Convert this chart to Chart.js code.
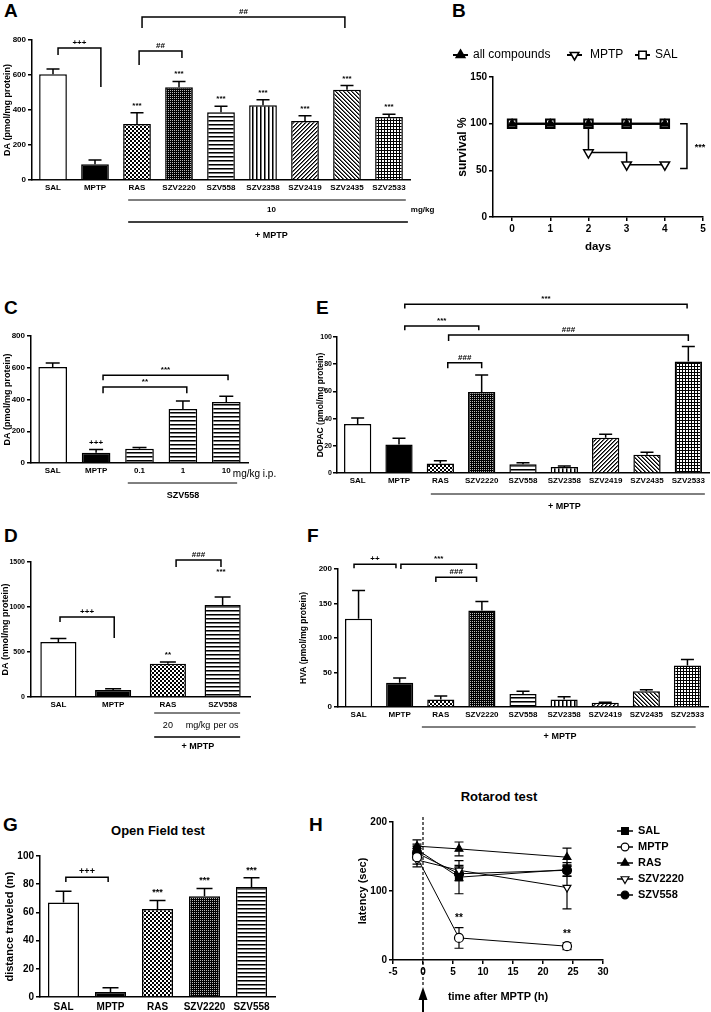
<!DOCTYPE html>
<html>
<head>
<meta charset="utf-8">
<title>MPTP figure</title>
<script src="https://cdn.jsdelivr.net/npm/chart.js@4.4.1/dist/chart.umd.min.js"></script>
<style>
  body { margin: 0; background: #fff; }
  #fig { position: relative; width: 711px; height: 1012px; overflow: hidden; font-family: "Liberation Sans", Arial, sans-serif; color: #000; }
  #fig canvas { position: absolute; }
  .letter { position: absolute; font-weight: bold; font-size: 19px; line-height: 19px; }
  .title { position: absolute; font-weight: bold; font-size: 13px; line-height: 13px; white-space: nowrap; transform: translate(-50%, -50%); }
</style>
</head>
<body>
<div id="fig">
  <div class="letter" style="left:4px;top:1px">A</div>
  <div class="letter" style="left:452px;top:1px">B</div>
  <div class="letter" style="left:4px;top:298px">C</div>
  <div class="letter" style="left:316px;top:298px">E</div>
  <div class="letter" style="left:4px;top:526px">D</div>
  <div class="letter" style="left:307px;top:526px">F</div>
  <div class="letter" style="left:3px;top:815px">G</div>
  <div class="letter" style="left:309px;top:815px">H</div>
  <div class="title" style="left:158px;top:830px">Open Field test</div>
  <div class="title" style="left:499px;top:796px">Rotarod test</div>
</div>
<script>
const FONT = '"Liberation Sans", Arial, sans-serif';
Chart.defaults.font.family = FONT;
Chart.defaults.color = '#000';

// ---- data ----
const drugLabels = ['SAL', 'MPTP', 'RAS', 'SZV2220', 'SZV558', 'SZV2358', 'SZV2419', 'SZV2435', 'SZV2533'];

// A: striatal DA, 10 mg/kg
const daMeans = [605, 90, 320, 530, 387, 427, 337, 516, 360];
const daSem = [30, 25, 65, 33, 35, 31, 30, 24, 16];
const daStars = ['', '', '***', '***', '***', '***', '***', '***', '***'];

// B: survival
const survivalDays = [0, 1, 2, 3, 4];
const survivalAll = [100, 100, 100, 100, 100];
const survivalMptp = [100, 100, 69, 56, 56];
const survivalSal = [100, 100, 100, 100, 100];

// C: SZV558 dose response
const doseLabels = ['SAL', 'MPTP', '0.1', '1', '10'];
const doseMeans = [605, 65, 90, 340, 385];
const doseSem = [25, 20, 7, 50, 35];
const doseStars = ['', '+++', '', '', ''];

// D: oral dosing
const oralLabels = ['SAL', 'MPTP', 'RAS', 'SZV558'];
const oralMeans = [611, 78, 370, 1022];
const oralSem = [40, 15, 20, 90];
const oralStars = ['', '', '**', ''];

// E: DOPAC
const dopacMeans = [36, 21, 7, 59.5, 6.5, 4.5, 26, 13.5, 82];
const dopacSem = [4.5, 4.5, 2, 12.5, 1, 0.7, 2.5, 1.8, 11];

// F: HVA
const hvaMeans = [128, 35, 11, 140, 19, 11, 6, 23, 60];
const hvaSem = [41, 7, 5, 13, 4, 4, 1, 2, 9];

// G: open field
const fieldLabels = ['SAL', 'MPTP', 'RAS', 'SZV2220', 'SZV558'];
const fieldMeans = [67, 3.5, 62.5, 71.5, 78];
const fieldSem = [8, 3, 6, 5.5, 6.5];
const fieldStars = ['', '', '***', '***', '***'];

// H: rotarod
const rotaHours = [-1, 6, 24];
const rotaSal = [160, 120, 131];
const rotaSalSem = [8, 24, 10];
const rotaMptp = [149, 32, 20];
const rotaMptpSem = [10, 15, 5];
const rotaRas = [165, 161, 149];
const rotaRasSem = [9, 10, 13];
const rota2220 = [145, 130, 105];
const rota2220Sem = [10, 7, 31];
const rota558 = [155, 125, 130];
const rota558Sem = [10, 10, 8];

// ---- fills ----
const W = '#fff', K = '#000';

function pattern(kind) {
  const n = kind === 'grid' ? 3 : (kind === 'dense' ? 2 : 4);
  const c = document.createElement('canvas');
  c.width = n; c.height = n;
  const g = c.getContext('2d');
  const px = (x, y, col) => { g.fillStyle = col; g.fillRect(x, y, 1, 1); };
  g.fillStyle = W; g.fillRect(0, 0, n, n);
  if (kind === 'dots') {
    g.fillStyle = K; g.fillRect(0, 0, n, n);
    g.fillStyle = W; g.fillRect(0, 0, 2, 2); g.fillRect(2, 2, 2, 2);
  } else if (kind === 'dense') {
    g.fillStyle = K; g.fillRect(0, 0, n, n);
    px(0, 0, '#bbb');
  } else if (kind === 'hlines') {
    g.fillStyle = K; g.fillRect(0, 0, n, 1);
    g.fillStyle = '#777'; g.fillRect(0, 1, n, 1);
  } else if (kind === 'vlines') {
    g.fillStyle = K; g.fillRect(0, 0, 1, n);
    g.fillStyle = '#777'; g.fillRect(1, 0, 1, n);
  } else if (kind === 'up') {
    for (let i = 0; i < 4; i++) { px(3 - i, i, K); px((4 - i) % 4, i, '#666'); }
  } else if (kind === 'down') {
    for (let i = 0; i < 4; i++) { px(i, i, K); px((i + 1) % 4, i, '#666'); }
  } else if (kind === 'grid') {
    g.fillStyle = K; g.fillRect(0, 0, n, 1); g.fillRect(0, 0, 1, n);
  }
  return g.createPattern(c, 'repeat');
}

const dots = pattern('dots'), dense = pattern('dense'), hl = pattern('hlines');
const drugFills = [W, K, dots, dense, hl, pattern('vlines'), pattern('up'), pattern('down'), pattern('grid')];

// ---- helpers ----
function place(box) {
  const c = document.createElement('canvas');
  c.width = box[2]; c.height = box[3];
  c.style.left = box[0] + 'px'; c.style.top = box[1] + 'px';
  document.getElementById('fig').appendChild(c);
  return c;
}

function padFor(L) {
  return {
    left: L.area[0] - L.box[0] - L.yW,
    top: L.area[1] - L.box[1],
    right: L.box[0] + L.box[2] - L.area[2],
    bottom: L.box[1] + L.box[3] - L.area[3] - L.xH
  };
}

function bold(size) { return { family: FONT, size: size, weight: 'bold' }; }
const plain = v => String(v);
const axisLine = { display: true, color: K, width: 1.5 };
const tickMarks = { display: true, drawOnChartArea: false, drawTicks: true, tickLength: 4, color: K, lineWidth: 1.5 };

function pts(xs, ys) { return xs.map((x, i) => ({ x: x, y: ys[i] })); }

function marker(ctx, style, x, y, r, fill, flip) {
  ctx.beginPath();
  if (style === 'rect') ctx.rect(x - r * 0.75, y - r * 0.75, r * 1.5, r * 1.5);
  else if (style === 'circle') ctx.arc(x, y, r * 0.85, 0, Math.PI * 2);
  else {
    const s = flip ? -1 : 1;
    ctx.moveTo(x, y - s * r);
    ctx.lineTo(x + r * 0.87, y + s * r * 0.5);
    ctx.lineTo(x - r * 0.87, y + s * r * 0.5);
    ctx.closePath();
  }
  ctx.fillStyle = fill; ctx.fill(); ctx.stroke();
}

// error bars, stars, brackets and group lines for the bar panels
function barMarks(means, m) {
  return {
    id: 'barMarks',
    afterDatasetsDraw(chart) {
      const ctx = chart.ctx, xs = chart.scales.x, ys = chart.scales.y;
      const bottom = chart.chartArea.bottom;
      ctx.save();
      ctx.strokeStyle = K; ctx.fillStyle = K; ctx.lineWidth = 1.5;
      ctx.textAlign = 'center'; ctx.textBaseline = 'alphabetic';
      ctx.font = 'bold ' + m.star + 'px ' + FONT;
      means.forEach((v, i) => {
        const x = xs.getPixelForValue(i);
        const y0 = ys.getPixelForValue(v), y1 = ys.getPixelForValue(v + m.sem[i]);
        ctx.beginPath();
        ctx.moveTo(x, y0); ctx.lineTo(x, y1);
        ctx.moveTo(x - m.cap, y1); ctx.lineTo(x + m.cap, y1);
        ctx.stroke();
        if (m.stars && m.stars[i]) ctx.fillText(m.stars[i], x, y1 - 5);
      });
      (m.brackets || []).forEach(b => {
        const x1 = xs.getPixelForValue(b.from), x2 = xs.getPixelForValue(b.to);
        const y = ys.getPixelForValue(b.at);
        ctx.beginPath();
        ctx.moveTo(x1, ys.getPixelForValue(b.left));
        ctx.lineTo(x1, y); ctx.lineTo(x2, y);
        ctx.lineTo(x2, ys.getPixelForValue(b.right));
        ctx.stroke();
        ctx.fillText(b.text, (x1 + x2) / 2, y - 3);
      });
      (m.notes || []).forEach(n => ctx.fillText(n.text, xs.getPixelForValue(n.x), ys.getPixelForValue(n.y)));
      (m.rules || []).forEach(r => {
        ctx.lineWidth = r.w;
        ctx.beginPath();
        ctx.moveTo(xs.getPixelForValue(r.from), bottom + r.dy);
        ctx.lineTo(xs.getPixelForValue(r.to), bottom + r.dy);
        ctx.stroke();
      });
      ctx.textBaseline = 'middle';
      (m.texts || []).forEach(t => {
        ctx.font = (t.weight || 'bold') + ' ' + t.size + 'px ' + FONT;
        ctx.textAlign = t.align || 'center';
        ctx.fillText(t.text, xs.getPixelForValue(t.x), bottom + t.dy);
      });
      ctx.restore();
    }
  };
}

function barPanel(L, labels, means, fills, yMax, yStep, yTitle, marks) {
  return new Chart(place(L.box), {
    type: 'bar',
    data: {
      labels: labels,
      datasets: [{
        data: means,
        backgroundColor: fills,
        borderColor: K,
        borderWidth: 1.5,
        barPercentage: 0.66,
        categoryPercentage: 1
      }]
    },
    options: {
      responsive: false,
      animation: false,
      events: [],
      layout: { padding: padFor(L) },
      plugins: { legend: { display: false }, tooltip: { enabled: false } },
      scales: {
        x: {
          afterFit: s => { s.height = L.xH; },
          grid: { display: false, drawTicks: false },
          border: axisLine,
          ticks: { padding: L.xPad, font: bold(L.xTick), color: K, autoSkip: false, maxRotation: 0 }
        },
        y: {
          min: 0, max: yMax,
          afterFit: s => { s.width = L.yW; },
          grid: tickMarks,
          border: axisLine,
          ticks: { stepSize: yStep, padding: L.yPad, font: bold(L.yTick), color: K, callback: plain },
          title: { display: true, text: yTitle, font: bold(L.tSize), color: K, padding: { top: L.tPad, bottom: 0 } }
        }
      }
    },
    plugins: [barMarks(means, marks)]
  });
}

// ---- A ----
barPanel({ box: [0, 0, 440, 250], area: [32, 40, 410, 180], yW: 32, xH: 16, xPad: 3, xTick: 8, yPad: 2, yTick: 8, tSize: 9, tPad: 2 },
  drugLabels, daMeans, drugFills, 800, 200, 'DA (pmol/mg protein)', {
    sem: daSem, stars: daStars, star: 8, cap: 6.5,
    brackets: [
      { from: 0.12, to: 1.14, at: 754, left: 714, right: 531, text: '+++' },
      { from: 2.05, to: 3.07, at: 737, left: 657, right: 697, text: '##' },
      { from: 2.12, to: 6.95, at: 931, left: 869, right: 869, text: '##' }
    ],
    rules: [{ from: 1.79, to: 8.4, dy: 20, w: 1 }, { from: 1.79, to: 8.45, dy: 42, w: 1.5 }],
    texts: [
      { x: 5.2, dy: 30, text: '10', size: 8 },
      { x: 8.52, dy: 30, text: 'mg/kg', size: 8, align: 'left' },
      { x: 5.2, dy: 56, text: '+ MPTP', size: 9 }
    ]
  });

// ---- C ----
barPanel({ box: [0, 300, 330, 205], area: [31, 336, 248, 463], yW: 31, xH: 16, xPad: 3, xTick: 8, yPad: 2, yTick: 8, tSize: 9, tPad: 2 },
  doseLabels, doseMeans, [W, K, hl, hl, hl], 800, 200, 'DA (pmol/mg protein)', {
    sem: doseSem, stars: doseStars, star: 8, cap: 7,
    brackets: [
      { from: 1.16, to: 3.09, at: 478, left: 440, right: 440, text: '**' },
      { from: 1.16, to: 4.04, at: 553, left: 522, right: 522, text: '***' }
    ],
    rules: [{ from: 1.73, to: 4.25, dy: 20, w: 1 }],
    texts: [
      { x: 4.15, dy: 11, text: 'mg/kg i.p.', size: 10, weight: 'normal', align: 'left' },
      { x: 3.0, dy: 33, text: 'SZV558', size: 9 }
    ]
  });

// ---- D ----
barPanel({ box: [0, 530, 330, 230], area: [31, 562, 250, 697], yW: 31, xH: 16, xPad: 3, xTick: 8, yPad: 2, yTick: 7, tSize: 9, tPad: 0 },
  oralLabels, oralMeans, [W, K, dots, hl], 1500, 500, 'DA (nmol/mg protein)', {
    sem: oralSem, stars: oralStars, star: 8, cap: 8,
    brackets: [
      { from: 0.03, to: 1.02, at: 889, left: 833, right: 656, text: '+++' },
      { from: 2.15, to: 2.97, at: 1522, left: 1444, right: 1444, text: '###' }
    ],
    notes: [{ x: 2.97, y: 1362, text: '***' }],
    rules: [{ from: 1.75, to: 3.32, dy: 16, w: 1 }, { from: 1.75, to: 3.32, dy: 40, w: 1.5 }],
    texts: [
      { x: 2.0, dy: 29, text: '20', size: 9, weight: 'normal' },
      { x: 2.55, dy: 29, text: 'mg/kg', size: 9, weight: 'normal' },
      { x: 3.06, dy: 29, text: 'per os', size: 9, weight: 'normal' },
      { x: 2.55, dy: 50, text: '+ MPTP', size: 9 }
    ]
  });

// ---- E ----
barPanel({ box: [310, 285, 401, 230], area: [337, 337, 709, 473], yW: 22, xH: 16, xPad: 3, xTick: 8, yPad: 1, yTick: 7, tSize: 8.5, tPad: 1 },
  drugLabels, dopacMeans, drugFills, 100, 20, 'DOPAC (pmol/mg protein)', {
    sem: dopacSem, star: 8, cap: 6.5,
    brackets: [
      { from: 1.14, to: 7.97, at: 124, left: 121, right: 121, text: '***' },
      { from: 1.14, to: 2.93, at: 108, left: 105, right: 105, text: '***' },
      { from: 2.2, to: 8.0, at: 101.5, left: 97, right: 97, text: '###' },
      { from: 2.18, to: 3.0, at: 81, left: 77, right: 77, text: '###' }
    ],
    rules: [{ from: 1.77, to: 8.4, dy: 21, w: 1 }],
    texts: [{ x: 5.0, dy: 34, text: '+ MPTP', size: 9 }]
  });

// ---- F ----
barPanel({ box: [290, 545, 421, 215], area: [338, 569, 708, 707], yW: 41, xH: 16, xPad: 3, xTick: 8, yPad: 2, yTick: 8, tSize: 8.5, tPad: 2 },
  drugLabels, hvaMeans, drugFills, 200, 50, 'HVA (pmol/mg protein)', {
    sem: hvaSem, star: 8, cap: 6.5,
    brackets: [
      { from: -0.11, to: 0.91, at: 207, left: 201, right: 201, text: '++' },
      { from: 1.03, to: 2.87, at: 207, left: 200, right: 200, text: '***' },
      { from: 1.88, to: 2.87, at: 188, left: 181, right: 181, text: '###' }
    ],
    rules: [{ from: 1.54, to: 8.2, dy: 20, w: 1 }],
    texts: [{ x: 4.9, dy: 30, text: '+ MPTP', size: 9 }]
  });

// ---- G ----
barPanel({ box: [0, 840, 300, 172], area: [40, 856, 275, 997], yW: 40, xH: 15, xPad: 4, xTick: 10, yPad: 2, yTick: 10, tSize: 11, tPad: 3 },
  fieldLabels, fieldMeans, [W, K, dots, dense, hl], 100, 20, 'distance traveled (m)', {
    sem: fieldSem, stars: fieldStars, star: 9, cap: 8,
    brackets: [{ from: 0.05, to: 0.95, at: 85, left: 81.5, right: 81.5, text: '+++' }]
  });

// ---- B ----
const LB = { box: [440, 20, 271, 240], area: [493, 77, 703, 217], yW: 41, xH: 40 };
const survivalLegend = [
  { text: 'all compounds', style: 'triangle', fill: K, flip: false, x0: 13, tx: 33 },
  { text: 'MPTP', style: 'triangle', fill: W, flip: true, x0: 127, tx: 150 },
  { text: 'SAL', style: 'rect', fill: W, flip: false, x0: 195, tx: 215 }
];
const survivalMarks = {
  id: 'survivalMarks',
  afterDatasetsDraw(chart) {
    const ctx = chart.ctx, xs = chart.scales.x, ys = chart.scales.y;
    ctx.save();
    ctx.strokeStyle = K; ctx.fillStyle = K; ctx.lineWidth = 1.5;
    const xa = xs.getPixelForValue(4.4), xb = xs.getPixelForValue(4.58);
    const y1 = ys.getPixelForValue(100), y2 = ys.getPixelForValue(52);
    ctx.beginPath();
    ctx.moveTo(xa, y1); ctx.lineTo(xb, y1); ctx.lineTo(xb, y2); ctx.lineTo(xa, y2);
    ctx.stroke();
    ctx.font = 'bold 9px ' + FONT; ctx.textAlign = 'center'; ctx.textBaseline = 'middle';
    ctx.fillText('***', xs.getPixelForValue(4.92), ys.getPixelForValue(74));
    const ly = 35;
    survivalLegend.forEach(it => {
      ctx.lineWidth = 2;
      ctx.beginPath(); ctx.moveTo(it.x0, ly); ctx.lineTo(it.x0 + 15, ly); ctx.stroke();
      ctx.lineWidth = 1.5;
      marker(ctx, it.style, it.x0 + 7.5, ly, 5, it.fill, it.flip);
      ctx.fillStyle = K;
      ctx.font = '12px ' + FONT; ctx.textAlign = 'left';
      ctx.fillText(it.text, it.tx, ly);
    });
    ctx.restore();
  }
};
new Chart(place(LB.box), {
  type: 'line',
  data: {
    datasets: [
      { label: 'all compounds', data: pts(survivalDays, survivalAll), borderColor: K, backgroundColor: K, borderWidth: 2, pointStyle: 'triangle', pointRadius: 5, pointBorderWidth: 1 },
      { label: 'SAL', data: pts(survivalDays, survivalSal), borderColor: K, backgroundColor: W, borderWidth: 2, pointStyle: 'rect', pointRadius: 6, pointBorderWidth: 2 },
      { label: 'MPTP', data: pts(survivalDays, survivalMptp), stepped: true, borderColor: K, backgroundColor: W, borderWidth: 1.5, pointStyle: 'triangle', pointRotation: 180, pointRadius: [0, 0, 5.5, 5.5, 5.5], pointBorderWidth: 1.5 }
    ]
  },
  options: {
    responsive: false, animation: false, events: [],
    layout: { padding: padFor(LB) },
    plugins: { legend: { display: false }, tooltip: { enabled: false } },
    scales: {
      x: {
        type: 'linear', min: -0.5, max: 5,
        afterFit: s => { s.height = LB.xH; },
        grid: tickMarks, border: axisLine,
        ticks: { stepSize: 1, includeBounds: false, padding: 2, font: bold(10), color: K },
        title: { display: true, text: 'days', font: bold(11.5), color: K, padding: { top: 0, bottom: 3 } }
      },
      y: {
        min: 0, max: 150,
        afterFit: s => { s.width = LB.yW; },
        grid: tickMarks, border: axisLine,
        ticks: { stepSize: 50, padding: 2, font: bold(10), color: K },
        title: { display: true, text: 'survival %', font: bold(12), color: K, padding: { top: 3, bottom: 0 } }
      }
    }
  },
  plugins: [survivalMarks]
});

// ---- H ----
const LH = { box: [340, 790, 371, 222], area: [393, 822, 603, 960], yW: 39, xH: 45 };
const rotaSeries = [
  { label: 'MPTP', data: rotaMptp, sem: rotaMptpSem, style: 'circle', fill: W, flip: false },
  { label: 'SAL', data: rotaSal, sem: rotaSalSem, style: 'rect', fill: K, flip: false },
  { label: 'RAS', data: rotaRas, sem: rotaRasSem, style: 'triangle', fill: K, flip: false },
  { label: 'SZV2220', data: rota2220, sem: rota2220Sem, style: 'triangle', fill: W, flip: true },
  { label: 'SZV558', data: rota558, sem: rota558Sem, style: 'circle', fill: K, flip: false }
];
const legendOrder = ['SAL', 'MPTP', 'RAS', 'SZV2220', 'SZV558'];
const rotaMarks = {
  id: 'rotaMarks',
  beforeDatasetsDraw(chart) {
    const ctx = chart.ctx, xs = chart.scales.x, ys = chart.scales.y, area = chart.chartArea;
    ctx.save();
    ctx.strokeStyle = K; ctx.lineWidth = 1.2;
    // dashed line at MPTP injection
    const x0 = xs.getPixelForValue(0);
    ctx.setLineDash([3, 2]);
    ctx.beginPath(); ctx.moveTo(x0, area.top - 5); ctx.lineTo(x0, 195); ctx.stroke();
    ctx.setLineDash([]);
    // error bars
    rotaSeries.forEach(s => {
      s.data.forEach((v, i) => {
        const x = xs.getPixelForValue(rotaHours[i]);
        const ya = ys.getPixelForValue(v - s.sem[i]), yb = ys.getPixelForValue(v + s.sem[i]);
        ctx.beginPath();
        ctx.moveTo(x, ya); ctx.lineTo(x, yb);
        ctx.moveTo(x - 4.5, ya); ctx.lineTo(x + 4.5, ya);
        ctx.moveTo(x - 4.5, yb); ctx.lineTo(x + 4.5, yb);
        ctx.stroke();
      });
    });
    ctx.restore();
  },
  afterDatasetsDraw(chart) {
    const ctx = chart.ctx, xs = chart.scales.x, ys = chart.scales.y;
    ctx.save();
    ctx.strokeStyle = K; ctx.fillStyle = K;
    // arrow under the axis
    const x0 = xs.getPixelForValue(0);
    ctx.lineWidth = 2;
    ctx.beginPath(); ctx.moveTo(x0, 222); ctx.lineTo(x0, 206); ctx.stroke();
    ctx.beginPath(); ctx.moveTo(x0, 197); ctx.lineTo(x0 - 4.5, 210); ctx.lineTo(x0 + 4.5, 210); ctx.closePath(); ctx.fill();
    // significance
    ctx.font = 'bold 10px ' + FONT; ctx.textAlign = 'center'; ctx.textBaseline = 'middle';
    ctx.fillText('**', xs.getPixelForValue(6), ys.getPixelForValue(60));
    ctx.fillText('**', xs.getPixelForValue(24), ys.getPixelForValue(38));
    // legend
    ctx.font = 'bold 11px ' + FONT; ctx.textAlign = 'left';
    legendOrder.forEach((name, k) => {
      const s = rotaSeries.find(r => r.label === name);
      const y = 41 + k * 16;
      ctx.lineWidth = 1.5;
      ctx.beginPath(); ctx.moveTo(277, y); ctx.lineTo(293, y); ctx.stroke();
      ctx.lineWidth = 1.2;
      marker(ctx, s.style, 285, y, 4.5, s.fill, s.flip);
      ctx.fillStyle = K;
      ctx.fillText(name, 298, y);
    });
    ctx.restore();
  }
};
new Chart(place(LH.box), {
  type: 'line',
  data: {
    datasets: rotaSeries.map(s => ({
      label: s.label,
      data: pts(rotaHours, s.data),
      borderColor: K,
      backgroundColor: s.fill,
      borderWidth: 1,
      pointStyle: s.style,
      pointRotation: s.flip ? 180 : 0,
      pointRadius: s.style === 'rect' ? 5 : 4.5,
      pointBorderWidth: 1.2
    }))
  },
  options: {
    responsive: false, animation: false, events: [],
    layout: { padding: padFor(LH) },
    plugins: { legend: { display: false }, tooltip: { enabled: false } },
    scales: {
      x: {
        type: 'linear', min: -5, max: 30,
        afterFit: s => { s.height = LH.xH; },
        grid: tickMarks, border: axisLine,
        ticks: { stepSize: 5, padding: 2, font: bold(10), color: K },
        title: { display: true, text: 'time after MPTP (h)', font: bold(11), color: K, padding: { top: 0, bottom: 1.5 } }
      },
      y: {
        min: 0, max: 200,
        afterFit: s => { s.width = LH.yW; },
        grid: tickMarks, border: axisLine,
        ticks: { stepSize: 100, padding: 2, font: bold(10), color: K },
        title: { display: true, text: 'latency (sec)', font: bold(11), color: K, padding: { top: 2.4, bottom: 0 } }
      }
    }
  },
  plugins: [rotaMarks]
});
</script>
</body>
</html>
